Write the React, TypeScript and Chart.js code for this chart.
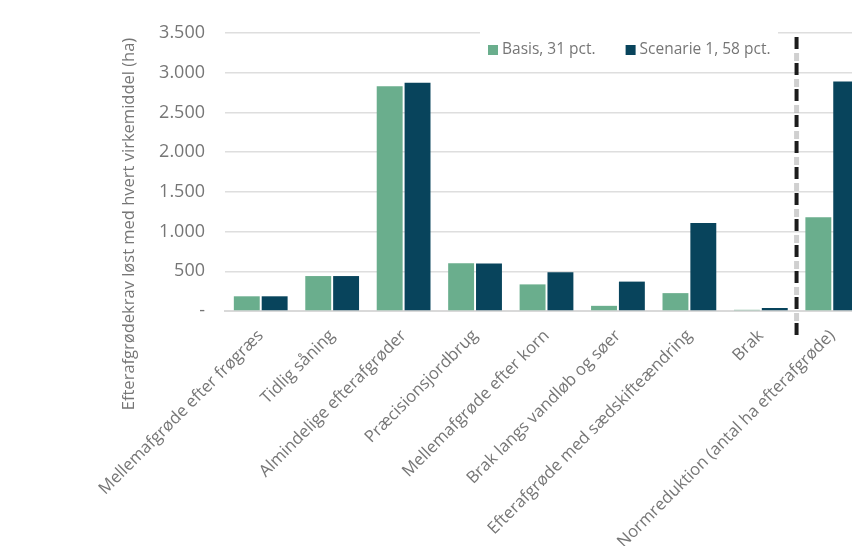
import React, { useEffect, useRef } from "react";
import { Chart, registerables } from "chart.js";

Chart.register(...registerables);

const categories = [
  "Mellemafgrøde efter frøgræs",
  "Tidlig såning",
  "Almindelige efterafgrøder",
  "Præcisionsjordbrug",
  "Mellemafgrøde efter korn",
  "Brak langs vandløb og søer",
  "Efterafgrøde med sædskifteændring",
  "Brak",
  "Normreduktion (antal ha efterafgrøde)",
];
const seriesLabels = ["Basis, 31 pct.", "Scenarie 1, 58 pct."];
const basisValues = [185, 440, 2830, 600, 335, 65, 225, 15, 1180];
const scenarioValues = [185, 440, 2875, 598, 487, 370, 1107, 38, 2890];
const seriesColors = ["#6AAE8D", "#08445C"];
const yTicks = [0, 500, 1000, 1500, 2000, 2500, 3000, 3500];
const yTickLabels = ["-", "500", "1.000", "1.500", "2.000", "2.500", "3.000", "3.500"];
const yAxisTitle = "Efterafgrødekrav løst med hvert virkemiddel (ha)";
const dividerAfterIndex = 7;

const FONT = "'Open Sans', 'Noto Sans', sans-serif";
const TEXT = "#767676";

const legendPlugin = {
  id: "insideLegend",
  beforeDatasetsDraw(chart: any) {
    const ctx = chart.ctx;
    ctx.save();
    ctx.fillStyle = "#ffffff";
    ctx.fillRect(480, 29, 298, 40);
    ctx.font = `15.5px ${FONT}`;
    ctx.textBaseline = "middle";
    let x = 488;
    const y = 50;
    chart.data.datasets.forEach((ds: any) => {
      ctx.fillStyle = ds.backgroundColor;
      ctx.fillRect(x, y - 5, 10, 10);
      ctx.fillStyle = TEXT;
      ctx.fillText(ds.label, x + 14, y);
      x += 14 + ctx.measureText(ds.label).width + 30;
    });
    ctx.restore();
  },
};

const dividerPlugin = {
  id: "divider",
  afterDatasetsDraw(chart: any) {
    const xs = chart.scales.x;
    const px = (xs.getPixelForValue(dividerAfterIndex) + xs.getPixelForValue(dividerAfterIndex + 1)) / 2;
    const ctx = chart.ctx;
    ctx.save();
    ctx.lineWidth = 5;
    ctx.strokeStyle = "rgba(170,170,170,0.55)";
    ctx.setLineDash([8, 18]);
    ctx.lineDashOffset = -16;
    ctx.beginPath();
    ctx.moveTo(px, 37);
    ctx.lineTo(px, 337);
    ctx.stroke();
    ctx.lineWidth = 4;
    ctx.strokeStyle = "#1c1c1c";
    ctx.setLineDash([12, 14]);
    ctx.lineDashOffset = 0;
    ctx.beginPath();
    ctx.moveTo(px, 37);
    ctx.lineTo(px, 337);
    ctx.stroke();
    ctx.restore();
  },
};

const yTitlePlugin = {
  id: "yTitle",
  afterDraw(chart: any) {
    const ctx = chart.ctx;
    ctx.save();
    ctx.translate(129, 224);
    ctx.rotate(-Math.PI / 2);
    ctx.font = `16.5px ${FONT}`;
    ctx.fillStyle = TEXT;
    ctx.textAlign = "center";
    ctx.textBaseline = "middle";
    ctx.fillText(yAxisTitle, 0, 0);
    ctx.restore();
  },
};

export default function App() {
  const canvasRef = useRef<HTMLCanvasElement | null>(null);

  useEffect(() => {
    if (!canvasRef.current) return;
    const chart = new Chart(canvasRef.current, {
      type: "bar",
      data: {
        labels: categories,
        datasets: [
          {
            label: seriesLabels[0],
            data: basisValues,
            backgroundColor: seriesColors[0],
            categoryPercentage: 0.78,
            barPercentage: 0.93,
          },
          {
            label: seriesLabels[1],
            data: scenarioValues,
            backgroundColor: seriesColors[1],
            categoryPercentage: 0.78,
            barPercentage: 0.93,
          },
        ],
      },
      options: {
        animation: false,
        responsive: true,
        maintainAspectRatio: false,
        layout: { padding: { top: 33, left: 0, right: 0, bottom: 0 } },
        plugins: {
          legend: { display: false },
          tooltip: { enabled: false },
        },
        scales: {
          x: {
            grid: { display: false, drawTicks: false },
            border: { display: true, color: "#d9d9d9", width: 2 },
            ticks: {
              autoSkip: false,
              maxRotation: 45,
              minRotation: 45,
              padding: 15,
              color: TEXT,
              font: { family: FONT, size: 16.7 },
            },
            afterFit: (scale: any) => {
              scale.height = 235;
            },
          },
          y: {
            min: 0,
            max: 3500,
            grid: { color: "#dedede", lineWidth: 1.5, drawTicks: false },
            border: { display: false },
            afterBuildTicks: (scale: any) => {
              scale.ticks = yTicks.map((v) => ({ value: v }));
            },
            ticks: {
              padding: 20,
              color: TEXT,
              font: { family: FONT, size: 18 },
              callback: (value: any) => {
                const i = yTicks.indexOf(Number(value));
                return i >= 0 ? yTickLabels[i] : "";
              },
            },
            afterFit: (scale: any) => {
              scale.width = 225;
            },
          },
        },
      },
      plugins: [legendPlugin, dividerPlugin, yTitlePlugin],
    });
    return () => chart.destroy();
  }, []);

  return (
    <div
      style={{
        position: "fixed",
        left: 0,
        top: 0,
        width: 852,
        height: 546,
        overflow: "hidden",
        background: "#ffffff",
      }}
    >
      <div style={{ position: "relative", width: 868, height: 546 }}>
        <canvas ref={canvasRef} />
      </div>
    </div>
  );
}
